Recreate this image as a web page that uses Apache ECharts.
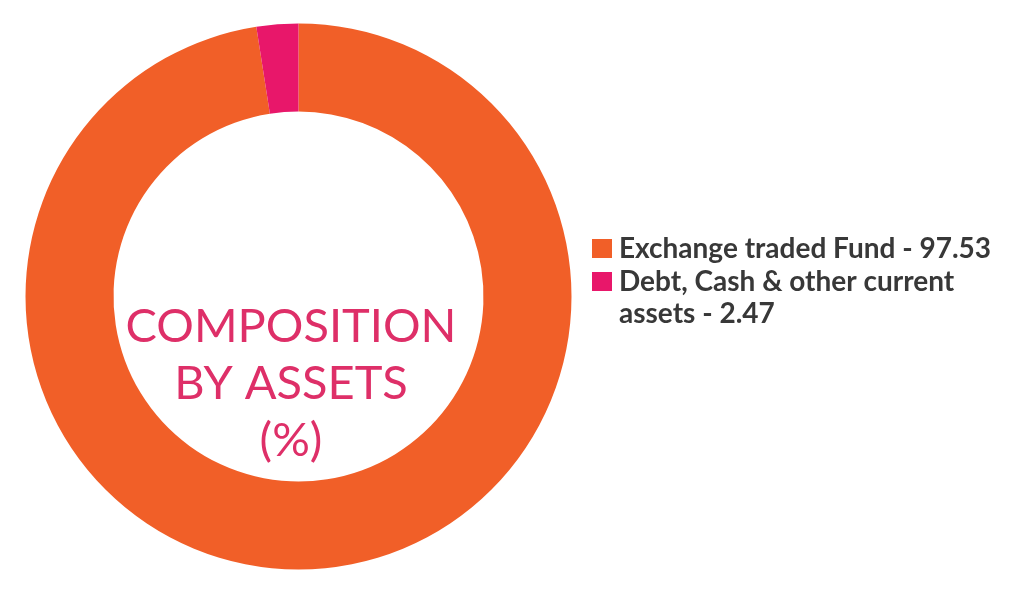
<!DOCTYPE html>
<html>
<head>
<meta charset="utf-8">
<script src="https://cdn.jsdelivr.net/npm/echarts@6/dist/echarts.min.js"></script>
<style>
html,body{margin:0;padding:0;background:#fff;}
#chart{width:1014px;height:609px;}
</style>
</head>
<body>
<div id="chart"></div>
<script>
const categories = ['Exchange traded Fund', 'Debt, Cash & other current assets'];
const legendLabels = ['Exchange traded Fund', 'Debt, Cash & other current\nassets'];
const values = [97.53, 2.47];
const colors = ['#F15F28', '#E8176A'];
const centerTitle = 'COMPOSITION\nBY ASSETS\n(%)';

const chart = echarts.init(document.getElementById('chart'), null, {renderer: 'canvas'});

chart.setOption({
  animation: false,
  backgroundColor: '#ffffff',
  title: {
    text: centerTitle,
    left: 291,
    top: 298,
    padding: 0,
    textAlign: 'center',
    textStyle: {
      fontFamily: 'Lato',
      fontWeight: 'normal',
      fontSize: 47,
      lineHeight: 57,
      color: '#DE2F68'
    }
  },
  legend: {
    orient: 'vertical',
    left: 592,
    top: 232.5,
    padding: 0,
    itemWidth: 20,
    itemHeight: 19,
    itemGap: -31,
    icon: 'rect',
    selectedMode: false,
    data: categories,
    formatter: function (name) {
      const i = categories.indexOf(name);
      const txt = legendLabels[i] + ' - ' + values[i];
      return i === 0 ? txt : ' \n' + txt;
    },
    textStyle: {
      fontFamily: 'Lato',
      fontWeight: 'bold',
      fontSize: 28,
      lineHeight: 32,
      color: '#383838',
      padding: [0, 0, 0, 2]
    }
  },
  series: [{
    type: 'pie',
    center: [298.5, 296.5],
    radius: [185, 273],
    startAngle: 90,
    clockwise: true,
    label: {show: false},
    labelLine: {show: false},
    emphasis: {disabled: true},
    silent: true,
    itemStyle: {borderWidth: 0},
    data: categories.map((name, i) => ({
      name: name,
      value: values[i],
      itemStyle: {color: colors[i]}
    }))
  }]
});
</script>
</body>
</html>
